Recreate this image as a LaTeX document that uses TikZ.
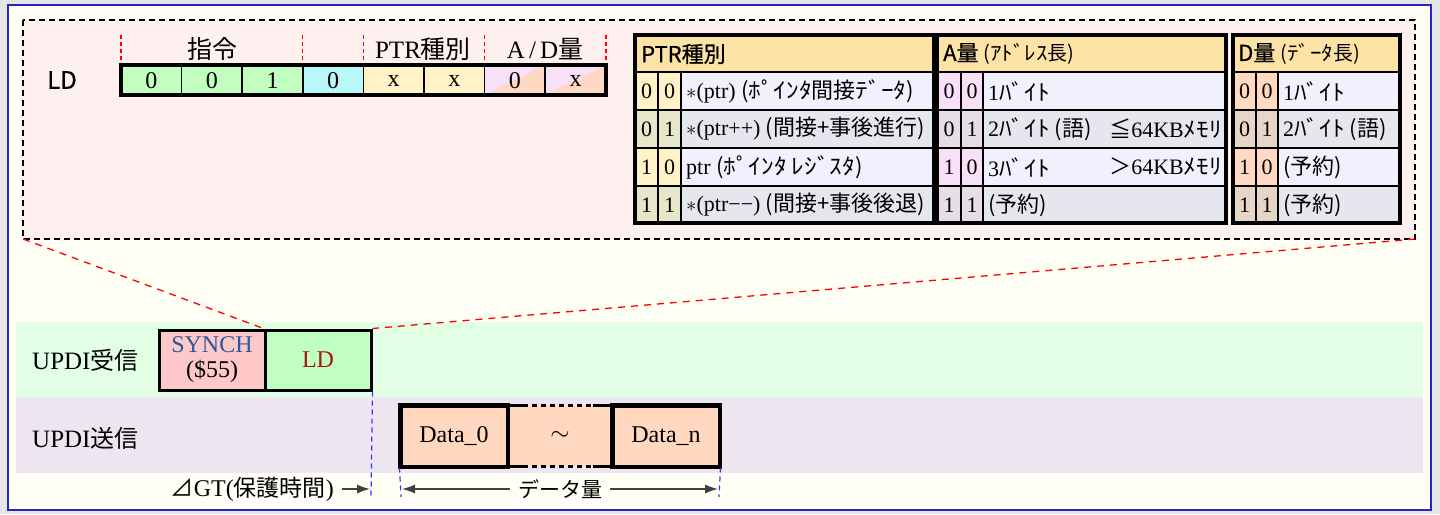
\documentclass[tikz,border=0pt]{standalone}
\usepackage{fontspec}
\usepackage{graphicx}
\setmainfont{Liberation Serif}
\newfontfamily\jp{Noto Sans CJK JP}
\newfontfamily\jpm{Noto Sans CJK JP}[FakeBold=0.7]
\usetikzlibrary{arrows.meta}
\definecolor{outgray}{HTML}{E6E6E6}
\definecolor{ivory}{HTML}{FFFFF6}
\definecolor{bord}{HTML}{2424C8}
\definecolor{pinkbg}{HTML}{FFF0F0}
\definecolor{bandgreen}{HTML}{E2FFE6}
\definecolor{bandpurple}{HTML}{EDE6F0}
\definecolor{synchc}{HTML}{FFC8C8}
\definecolor{ldgreen}{HTML}{C0FFC0}
\definecolor{cyanb}{HTML}{B8F8F8}
\definecolor{yelb}{HTML}{FFF2C6}
\definecolor{pinkb}{HTML}{F9E0F9}
\definecolor{peachb}{HTML}{FFD9C2}
\definecolor{hdr}{HTML}{FDE2A6}
\definecolor{rowA}{HTML}{F0F0FF}
\definecolor{rowB}{HTML}{E6E6EE}
\definecolor{oliveb}{HTML}{E6E6C8}
\definecolor{graypb}{HTML}{E6DDE6}
\definecolor{graydb}{HTML}{E6D6C8}
\definecolor{synchtxt}{HTML}{2A5A9A}
\definecolor{ldtxt}{HTML}{A01818}
\definecolor{datab}{HTML}{FFD8BF}
\definecolor{arrgray}{HTML}{404040}
\newcommand\jt{\jp\fontsize{22}{24}\selectfont}
\newcommand\hk[1]{\scalebox{1.15}[1]{#1}}
\tikzset{
  lbl/.style={inner sep=0pt, font=\fontsize{25}{28}\selectfont},
  celltxt/.style={inner sep=0pt, font=\fontsize{24}{26}\selectfont},
  tabtxt/.style={inner sep=0pt, anchor=west, font=\fontsize{22}{24}\selectfont},
  bittxt/.style={inner sep=0pt, font=\fontsize{22}{24}\selectfont},
  hdrtxt/.style={inner sep=0pt, anchor=west, font=\jpm\fontsize{22}{24}\selectfont},
  redtick/.style={red, line width=1.2, dash pattern=on 4 off 3},
  bluedash/.style={draw=blue!80!white, line width=1.2, dash pattern=on 5 off 4},
  framebox/.style={draw, line width=3, minimum width=106, minimum height=60, inner sep=0pt},
}
\newcommand\bittable[8]{%
  \fill[hdr] (#1,35) rectangle (#4,72);
  \foreach \r/\t/\bits in {0/72/{0,0},1/110/{0,1},2/148/{1,0},3/186/{1,1}}{
    \pgfmathsetmacro\bb{\t+38}
    \ifodd\r \def\bc{#6}\def\tc{rowB}\else\def\bc{#5}\def\tc{rowA}\fi
    \fill[fill=\bc] (#1,\t) rectangle (#3,\bb);
    \fill[fill=\tc] (#3,\t) rectangle (#4,\bb);
    \draw[line width=2] (#1,\t) -- (#4,\t);
    \pgfmathsetmacro\my{\t+19}
    \pgfmathsetmacro\ca{(#1+#2)/2}
    \pgfmathsetmacro\cb{(#2+#3)/2}
    \foreach \v [count=\k] in \bits {
      \ifnum\k=1 \node[bittxt] (#7\r a) at (\ca,\my) {\v};\else
      \node[bittxt] (#7\r b) at (\cb,\my) {\v};\fi
    }
  }
  \draw[line width=2] (#2,72) -- (#2,223) (#3,72) -- (#3,223);
  \draw[line width=3.5] (#1,35) rectangle (#4,223);
}
\begin{document}
\begin{tikzpicture}[x=1pt,y=-1pt]
\useasboundingbox (0,0) rectangle (1440,514);
\fill[outgray] (0,0) rectangle (1440,514);
\draw[bord, line width=2.5, fill=ivory] (8,5) rectangle (1431,510);
% zoom box
\draw[line width=1.5, dash pattern=on 6 off 4, fill=pinkbg] (23,20) rectangle (1415,239);
\coordinate (zl) at (23,239);
\coordinate (zr) at (1415,239);
% bands
\fill[bandgreen] (16,322) rectangle (1423,397);
\fill[bandpurple] (16,397) rectangle (1423,473);
\node[lbl, anchor=west] (rx) at (32,360) {UPDI{\jp\fontsize{24}{26}\selectfont 受信}};
\node[lbl, anchor=west] (tx) at (32,438) {UPDI{\jp\fontsize{24}{26}\selectfont 送信}};
% LD command bits
\node[inner sep=0pt, font=\jpm\fontsize{24}{26}\selectfont] (ldlbl) at (62,80) {LD};
\def\cw{60.6}
\foreach \i/\c in {0/ldgreen,1/ldgreen,2/ldgreen,3/cyanb,4/yelb,5/yelb}{
  \fill[fill=\c] ({121+\i*\cw},65) rectangle ({121+(\i+1)*\cw},95);
}
\foreach \i in {6,7}{
  \fill[pinkb] ({121+\i*\cw},65) rectangle ({121+(\i+1)*\cw},95);
  \fill[peachb] ({121+\i*\cw},95) -- ({121+(\i+1)*\cw},65) -- ({121+(\i+1)*\cw},95) -- cycle;
}
\foreach \i in {1,...,7}{
  \draw[line width=1.5] ({121+\i*\cw},65) -- ({121+\i*\cw},95);
}
\draw[line width=3.5] (121,65) rectangle (606,95);
\foreach \i/\v in {0/0,1/0,2/1,3/0,4/x,5/x,6/0,7/x}{
  \node[celltxt] (bit\i) at ({121+(\i+0.5)*\cw},81) {\v};
}
\foreach \x in {121,302.8,363.4,484.8,606}{
  \draw[redtick] (\x,35) -- (\x,63);
}
\node[inner sep=0pt, font=\jp\fontsize{25}{27}\selectfont] (g1) at (212,49) {指令};
\node[inner sep=0pt, font=\fontsize{25}{27}\selectfont] (g2) at (423,49) {PTR{\jp\fontsize{25}{27}\selectfont 種別}};
\node[inner sep=0pt, font=\fontsize{25}{27}\selectfont] (g3) at (545,49) {A\,/\,D{\jp\fontsize{25}{27}\selectfont 量}};
% tables
\bittable{635}{658}{681}{934}{yelb}{oliveb}{p}{}
\bittable{937}{961}{983}{1226}{pinkb}{graypb}{a}{}
\bittable{1233}{1256}{1278}{1400}{peachb}{graydb}{d}{}
\node[hdrtxt] (ph) at (641,54) {PTR種別};
\node[hdrtxt] (ah) at (943,54) {A量 {\jp\fontsize{20}{22}\selectfont (\hk{ｱﾄﾞﾚｽ}長)}};
\node[hdrtxt] (dh) at (1238,54) {D量 {\jp\fontsize{20}{22}\selectfont (\hk{ﾃﾞｰﾀ}長)}};
\node[tabtxt] (pt0) at (686,91) {$\ast$(ptr) {\jt (\hk{ﾎﾟｲﾝﾀ}間接\hk{ﾃﾞｰﾀ})}};
\node[tabtxt] (pt1) at (686,129) {$\ast$(ptr++) {\jt (間接+事後進行)}};
\node[tabtxt] (pt2) at (686,167) {ptr {\jt (\hk{ﾎﾟｲﾝﾀ} \hk{ﾚｼﾞｽﾀ})}};
\node[tabtxt] (pt3) at (686,205) {$\ast$(ptr−−) {\jt (間接+事後後退)}};
\node[tabtxt] (at0) at (988,91) {1{\jt\hk{ﾊﾞｲﾄ}}};
\node[tabtxt] (at1) at (988,129) {2{\jt\hk{ﾊﾞｲﾄ} (語)}};
\node[tabtxt, anchor=east] (at1r) at (1222,129) {{\jt ≦}64KB{\jt\hk{ﾒﾓﾘ}}};
\node[tabtxt] (at2) at (988,167) {3{\jt\hk{ﾊﾞｲﾄ}}};
\node[tabtxt, anchor=east] (at2r) at (1222,167) {{\jt ＞}64KB{\jt\hk{ﾒﾓﾘ}}};
\node[tabtxt] (at3) at (988,205) {{\jt (予約)}};
\node[tabtxt] (dt0) at (1283,91) {1{\jt\hk{ﾊﾞｲﾄ}}};
\node[tabtxt] (dt1) at (1283,129) {2{\jt\hk{ﾊﾞｲﾄ} (語)}};
\node[tabtxt] (dt2) at (1283,167) {{\jt (予約)}};
\node[tabtxt] (dt3) at (1283,205) {{\jt (予約)}};
% receive frames
\node[framebox, fill=synchc, align=center, font=\fontsize{24}{25}\selectfont] (synch) at (212,360)
  {\textcolor{synchtxt}{SYNCH}\\(\$55)};
\node[framebox, fill=ldgreen, font=\fontsize{24}{26}\selectfont, text=ldtxt] (ld) at (318,360) {LD};
% zoom connectors
\draw[red, line width=1.3, dash pattern=on 7 off 6] (zl) -- (ld.north west);
\draw[red, line width=1.3, dash pattern=on 7 off 6] (zr) -- (ld.north east);
% transmit frames
\node[framebox, fill=datab, font=\fontsize{24}{26}\selectfont] (d0) at (454,436) {Data\_0};
\node[fill=datab, minimum width=106, minimum height=60, inner sep=0pt, font=\fontsize{26}{28}\selectfont] (dm) at (560,436) {$\sim$};
\node[framebox, fill=datab, font=\fontsize{24}{26}\selectfont] (dn) at (666,436) {Data\_n};
\draw[line width=3] (dm.north west) -- ++(16,0) (dm.north east) -- ++(-20,0)
                    (dm.south west) -- ++(16,0) (dm.south east) -- ++(-20,0);
\draw[line width=3, dash pattern=on 5 off 4] ([xshift=16]dm.north west) -- ([xshift=-20]dm.north east);
\draw[line width=3, dash pattern=on 5 off 4] ([xshift=16]dm.south west) -- ([xshift=-20]dm.south east);
\draw[line width=3] (d0.north west) rectangle (d0.south east);
\draw[line width=3] (dn.north west) rectangle (dn.south east);
% guides
\coordinate (g1e) at (371,497);
\coordinate (g2e) at (401,497);
\coordinate (g3e) at (719,497);
\draw[bluedash] (ld.south east) -- (g1e);
\draw[bluedash] (d0.south west) -- (g2e);
\draw[bluedash] (dn.south east) -- (g3e);
\node[inner sep=0pt, anchor=east, font=\fontsize{24}{26}\selectfont] (gt) at (334,489)
  {{\jp\fontsize{23}{25}\selectfont ⊿}GT({\jp\fontsize{23}{25}\selectfont 保護時間})};
\coordinate (gta) at (370,489);
\draw[arrgray, line width=1.3, -{Latex[length=13,width=9]}] ([xshift=8]gt.east) -- (gta);
\node[inner sep=0pt, font=\jp\fontsize{21}{23}\selectfont] (dq) at (560,489) {データ量};
\coordinate (dql) at (402,489);
\coordinate (dqr) at (718,489);
\draw[arrgray, line width=1.3, -{Latex[length=13,width=9]}] ([xshift=-8]dq.west) -- (dql);
\draw[arrgray, line width=1.3, -{Latex[length=13,width=9]}] ([xshift=8]dq.east) -- (dqr);
\end{tikzpicture}
\end{document}
